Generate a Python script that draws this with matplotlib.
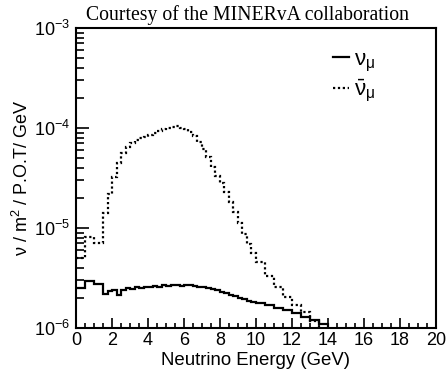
import numpy as np
import matplotlib
matplotlib.use("Agg")
import matplotlib.pyplot as plt
from matplotlib.ticker import LogLocator, MultipleLocator, NullFormatter

plt.rcParams['font.family'] = ['Liberation Sans', 'DejaVu Sans']
plt.rcParams['mathtext.fontset'] = 'custom'
plt.rcParams['mathtext.rm'] = 'Liberation Sans'
plt.rcParams['mathtext.it'] = 'Liberation Sans:italic'
plt.rcParams['mathtext.default'] = 'regular'

# Bin edges (GeV): 0.5 GeV bins at low and high energy, 0.25 GeV in the peak region
edges_low = [0.0, 0.5, 1.0, 1.5]
edges_mid = [1.75, 2.0, 2.25, 2.5, 2.75, 3.0, 3.25, 3.5, 3.75, 4.0, 4.25, 4.5,
             4.75, 5.0, 5.25, 5.5, 5.75, 6.0, 6.25, 6.5, 6.75, 7.0, 7.25, 7.5,
             7.75, 8.0, 8.25, 8.5, 8.75, 9.0, 9.25, 9.5, 9.75, 10.0]
edges_high = [10.5, 11.0, 11.5, 12.0, 12.5, 13.0, 13.5, 14.0, 20.0]

# Flux per bin (nu / m^2 / POT / GeV)
numu_flux = [2.5e-6, 2.97e-6, 2.73e-6,
             2.2e-6, 2.35e-6, 2.4e-6, 2.15e-6, 2.4e-6, 2.5e-6, 2.45e-6, 2.55e-6,
             2.52e-6, 2.6e-6, 2.58e-6, 2.65e-6, 2.6e-6, 2.7e-6, 2.66e-6, 2.7e-6,
             2.68e-6, 2.66e-6, 2.72e-6, 2.68e-6, 2.65e-6, 2.6e-6, 2.55e-6, 2.5e-6,
             2.45e-6, 2.38e-6, 2.3e-6, 2.25e-6, 2.15e-6, 2.1e-6, 2.0e-6, 1.95e-6,
             1.88e-6, 1.83e-6,
             1.78e-6, 1.7e-6, 1.6e-6, 1.5e-6, 1.4e-6, 1.3e-6, 1.2e-6, 1.1e-6, 0.0]

numubar_flux = [5.0e-6, 8.1e-6, 7.1e-6,
                1.4e-5, 2.2e-5, 3.2e-5, 4.5e-5, 5.6e-5, 6.4e-5, 7.1e-5, 7.6e-5,
                7.9e-5, 8.2e-5, 8.5e-5, 9.0e-5, 9.4e-5, 9.8e-5, 1.01e-4, 1.03e-4,
                1.04e-4, 1.01e-4, 9.7e-5, 9.2e-5, 8.4e-5, 7.3e-5, 6.2e-5, 5.1e-5,
                4.1e-5, 3.3e-5, 2.8e-5, 2.3e-5, 1.8e-5, 1.43e-5, 1.12e-5, 8.7e-6,
                6.9e-6, 5.6e-6,
                4.6e-6, 3.3e-6, 2.6e-6, 2.06e-6, 1.7e-6, 1.46e-6, 1.17e-6, 0.0, 0.0]

edges = np.array(edges_low + edges_mid + edges_high)
ymin, ymax = 1e-6, 1e-3

fig = plt.figure(figsize=(4.46, 3.73), dpi=100)
ax = fig.add_axes([76 / 446, 1 - 328 / 373, 360 / 446, 300 / 373])
ax.set_yscale('log')
ax.set_xlim(0, 20)
ax.set_ylim(ymin, ymax)

floor = ymin * 0.5
ax.stairs(np.maximum(numu_flux, floor), edges, color='black', lw=1.6,
          baseline=None, label=r'$\nu_{\mu}$')
ax.stairs(np.maximum(numubar_flux, floor), edges, color='black', lw=1.6,
          linestyle=(0, (1.0, 1.2)), baseline=None, label=r'$\bar{\nu}_{\mu}$')

for s in ax.spines.values():
    s.set_linewidth(1.5)

ax.xaxis.set_major_locator(MultipleLocator(2))
ax.xaxis.set_minor_locator(MultipleLocator(0.5))
ax.yaxis.set_major_locator(LogLocator(base=10))
ax.yaxis.set_minor_locator(LogLocator(base=10, subs=np.arange(2, 10)))
ax.yaxis.set_minor_formatter(NullFormatter())
ax.tick_params(axis='both', which='both', direction='in', top=False, right=False,
               labelsize=13, width=1.2)
ax.tick_params(axis='x', which='major', length=7, pad=3)
ax.tick_params(axis='x', which='minor', length=3.5)
ax.tick_params(axis='y', which='major', length=9, pad=4)
ax.tick_params(axis='y', which='minor', length=6)

ax.set_xlabel('Neutrino Energy (GeV)', fontsize=13.4, labelpad=2)
ax.set_ylabel(r'ν / m$^2$ / P.O.T/ GeV', fontsize=13, labelpad=2)

fig.text(0.555, 1 - 15 / 373, 'Courtesy of the MINERvA collaboration',
         family='Liberation Serif', fontsize=14.2, ha='center', va='center')

leg = ax.legend(loc='upper right', frameon=False, fontsize=16, handlelength=0.75,
                handletextpad=0.2, labelspacing=0.2, borderaxespad=0.0,
                borderpad=0.0, bbox_to_anchor=(0.83, 0.93))

fig.savefig('out.png', dpi=100)
